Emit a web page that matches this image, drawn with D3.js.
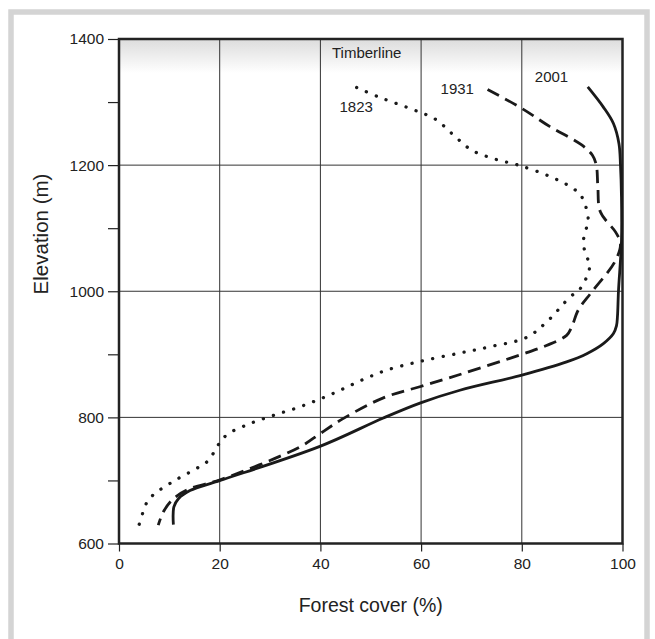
<!DOCTYPE html>
<html>
<head>
<meta charset="utf-8">
<script src="https://cdn.jsdelivr.net/npm/d3@7"></script>
<style>
  body { margin: 0; background: #fff; }
  text { font-family: "Liberation Sans", Arial, sans-serif; fill: #222; }
</style>
</head>
<body>
<script>
// forest cover (%) by elevation (m)
const elev1823 = [1323, 1308, 1288, 1273, 1248, 1224, 1210, 1200, 1181, 1163, 1150, 1113, 1094, 1076, 1057, 1040, 1004, 991, 951, 927, 912, 902, 889, 875, 860, 844, 829, 815, 803, 790, 774, 761, 745, 729, 719, 701, 690, 680, 666, 648, 630]
const cover1823 = [47.2, 51.6, 58.4, 62.8, 66.4, 70, 74.5, 79.3, 85.9, 90.2, 91.9, 93.2, 92.6, 92.2, 92.8, 93.5, 91.6, 89.6, 84.9, 81, 73.7, 67.7, 59.9, 53.2, 48.5, 44.2, 39.9, 35.3, 30.6, 26, 21.7, 20.1, 18.9, 17.4, 15.4, 11.3, 9.1, 7.2, 5.6, 4.7, 4.0]

const elev1931 = [1320, 1290, 1261, 1232, 1216, 1200, 1166, 1126, 1093, 1075, 1047, 999, 970, 943, 930, 914, 900, 868, 849, 831, 798, 774, 753, 701, 687, 671, 650, 629]
const cover1931 = [73.2, 80, 85.6, 91.9, 94, 94.8, 95.1, 95.6, 98.7, 99.6, 98.5, 93.9, 91.2, 89.9, 88.9, 84.9, 80, 67.7, 59.9, 52.5, 44.5, 39.9, 35.9, 20.1, 14.1, 10.8, 8.8, 7.8]

const elev2001 = [1324, 1292, 1266, 1234, 1200, 1150, 1080, 1000, 960, 945, 933, 917, 901, 888, 867, 843, 823, 799, 754, 700, 684, 671, 658, 630]
const cover2001 = [93.1, 96.2, 98.2, 99.3, 99.6, 99.8, 99.8, 99.2, 99.0, 98.8, 98.2, 96.2, 92.9, 88.9, 80, 67.7, 59.9, 52.5, 39.9, 20.1, 14.1, 11.8, 10.9, 10.8]

const xTicks = [0, 20, 40, 60, 80, 100]
const yTicks = [600, 700, 800, 900, 1000, 1100, 1200, 1300, 1400]
const yLabelTicks = [600, 800, 1000, 1200, 1400]

const W = 655, H = 639
const svg = d3.select("body").append("svg")
    .attr("width", W)
    .attr("height", H)

// light grey frame round the figure
svg.append("rect")
    .attr("x", 11).attr("y", 12)
    .attr("width", 636).attr("height", 640)
    .attr("fill", "none")
    .attr("stroke", "#d4d4d4")
    .attr("stroke-width", 5.5)

const x = d3.scaleLinear().domain([0, 100]).range([119, 622.5])
const y = d3.scaleLinear().domain([600, 1400]).range([543.5, 39])

const defs = svg.append("defs")
const grad = defs.append("linearGradient")
    .attr("id", "topfade")
    .attr("x1", 0).attr("y1", 0).attr("x2", 0).attr("y2", 1)
grad.append("stop").attr("offset", "0%").attr("stop-color", "#dcdcdc")
grad.append("stop").attr("offset", "100%").attr("stop-color", "#ffffff")

svg.append("rect")
    .attr("x", x(0)).attr("y", y(1400))
    .attr("width", x(100) - x(0)).attr("height", 34)
    .attr("fill", "url(#topfade)")

// grid
svg.selectAll(".vgrid")
    .data([20, 40, 60, 80])
    .enter().append("line")
    .attr("x1", d => x(d)).attr("x2", d => x(d))
    .attr("y1", y(1400)).attr("y2", y(600))
    .attr("stroke", "#333").attr("stroke-width", 1)

svg.selectAll(".hgrid")
    .data([800, 1000, 1200])
    .enter().append("line")
    .attr("x1", x(0)).attr("x2", x(100))
    .attr("y1", d => y(d)).attr("y2", d => y(d))
    .attr("stroke", "#333").attr("stroke-width", 1)

// axes
const yAxis = d3.axisLeft(y)
    .tickValues(yTicks)
    .tickSize(11)
    .tickPadding(4)
    .tickFormat(d => yLabelTicks.includes(d) ? d : "")
const gy = svg.append("g")
    .attr("transform", `translate(${x(0)},0)`)
    .call(yAxis)
gy.select(".domain").remove()
gy.selectAll("line").attr("stroke", "#222").attr("stroke-width", 1.2)
gy.selectAll("text").style("font-size", "15.5px").attr("fill", "#222")
    .style("font-family", "'Liberation Sans', Arial, sans-serif")

const xAxis = d3.axisBottom(x)
    .tickValues(xTicks)
    .tickSize(8)
    .tickPadding(6)
const gx = svg.append("g")
    .attr("transform", `translate(0,${y(600)})`)
    .call(xAxis)
gx.select(".domain").remove()
gx.selectAll("line").attr("stroke", "#222").attr("stroke-width", 1.2)
gx.selectAll("text").style("font-size", "15.5px").attr("fill", "#222")
    .style("font-family", "'Liberation Sans', Arial, sans-serif")

// plot border
svg.append("rect")
    .attr("x", x(0)).attr("y", y(1400))
    .attr("width", x(100) - x(0)).attr("height", y(600) - y(1400))
    .attr("fill", "none")
    .attr("stroke", "#222")
    .attr("stroke-width", 2.5)

// curves
const line = d3.line()
    .x(d => x(d[0]))
    .y(d => y(d[1]))
    .curve(d3.curveCatmullRom.alpha(0.5))

const series = [
    { cover: cover1823, elev: elev1823, dash: "0.1 10.5", width: 3.3, cap: "round" },
    { cover: cover1931, elev: elev1931, dash: "13 7", width: 2.8, cap: "butt" },
    { cover: cover2001, elev: elev2001, dash: null, width: 2.8, cap: "butt" }
]

svg.selectAll(".curve")
    .data(series)
    .enter().append("path")
    .attr("class", "curve")
    .attr("d", s => line(s.cover.map((c, i) => [c, s.elev[i]])))
    .attr("fill", "none")
    .attr("stroke", "#1a1a1a")
    .attr("stroke-width", s => s.width)
    .attr("stroke-linecap", s => s.cap)
    .attr("stroke-dasharray", s => s.dash)

// labels
const labels = [
    { text: "Timberline", v: 49.2, e: 1370, anchor: "middle" },
    { text: "1823", v: 47.1, e: 1284, anchor: "middle" },
    { text: "1931", v: 70.5, e: 1313, anchor: "end" },
    { text: "2001", v: 85.9, e: 1332, anchor: "middle" }
]
svg.selectAll(".lab")
    .data(labels)
    .enter().append("text")
    .attr("x", d => x(d.v))
    .attr("y", d => y(d.e))
    .attr("text-anchor", d => d.anchor)
    .style("font-size", "15px")
    .text(d => d.text)

svg.append("text")
    .attr("x", (x(0) + x(100)) / 2)
    .attr("y", 612)
    .attr("text-anchor", "middle")
    .style("font-size", "19.5px")
    .text("Forest cover (%)")

svg.append("text")
    .attr("transform", "translate(48,234) rotate(-90)")
    .attr("text-anchor", "middle")
    .style("font-size", "20.5px")
    .text("Elevation (m)")
</script>
</body>
</html>
